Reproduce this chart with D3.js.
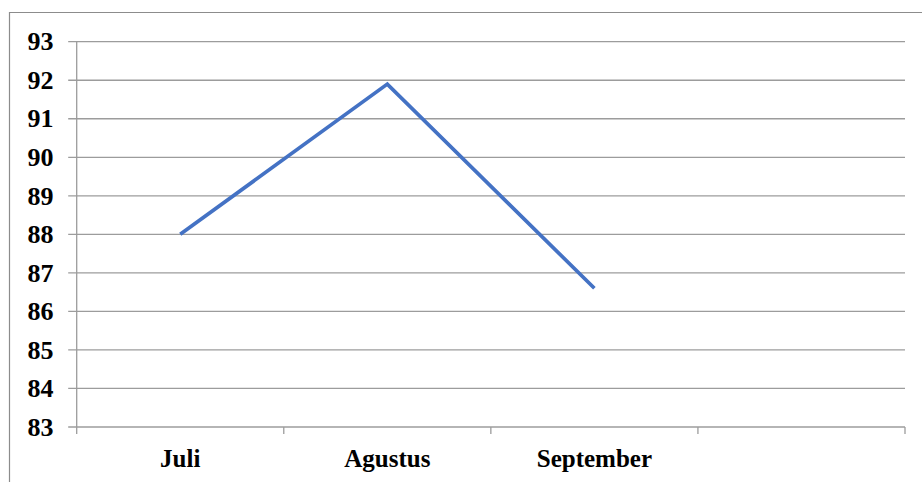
<!DOCTYPE html>
<html>
<head>
<meta charset="utf-8">
<script src="https://cdn.jsdelivr.net/npm/d3@7"></script>
<style>
  html, body { margin: 0; padding: 0; background: #fff; }
  svg { display: block; }
</style>
</head>
<body>
<svg id="chart" width="922" height="482"></svg>
<script>
// Monthly values (the fourth slot on the axis is left empty)
const categories = ["Juli", "Agustus", "September", ""];
const values = [88, 91.9, 86.6];
const yTicks = [83, 84, 85, 86, 87, 88, 89, 90, 91, 92, 93];

const labelFont = "'Liberation Serif', 'Times New Roman', Times, 'DejaVu Serif', serif";

const svg = d3.select("#chart");
const W = 922, H = 482;
const plotLeft = 76.7, plotRight = 905, plotTop = 41.7, plotBottom = 427;

// outer frame (left and top edges visible)
svg.append("path")
  .attr("d", `M9.5,${H} L9.5,12.5 L${W},12.5`)
  .attr("fill", "none")
  .attr("stroke", "#8c8c8c")
  .attr("stroke-width", 1.2);

const x = d3.scaleBand().domain(categories).range([plotLeft, plotRight]).padding(0);
const y = d3.scaleLinear().domain([83, 93]).range([plotBottom, plotTop]);

// horizontal gridlines with short ticks to the left of the axis
svg.append("g").selectAll("line")
  .data(yTicks)
  .join("line")
  .attr("x1", plotLeft - 8.5)
  .attr("x2", plotRight)
  .attr("y1", d => y(d))
  .attr("y2", d => y(d))
  .attr("stroke", "#9c9c9c")
  .attr("stroke-width", 1.3);

// vertical axis line
svg.append("line")
  .attr("x1", plotLeft).attr("x2", plotLeft)
  .attr("y1", plotTop).attr("y2", plotBottom)
  .attr("stroke", "#9c9c9c")
  .attr("stroke-width", 1.3);

// category boundary ticks on the x axis
const edges = categories.map(c => x(c)).concat([plotRight]);
svg.append("g").selectAll("line")
  .data(edges)
  .join("line")
  .attr("x1", d => d).attr("x2", d => d)
  .attr("y1", plotBottom).attr("y2", plotBottom + 7)
  .attr("stroke", "#9c9c9c")
  .attr("stroke-width", 1.3);

// y labels
svg.append("g").selectAll("text")
  .data(yTicks)
  .join("text")
  .attr("x", 53.5)
  .attr("y", d => y(d) + 8.7)
  .attr("text-anchor", "end")
  .attr("font-family", labelFont)
  .attr("font-weight", "bold")
  .attr("font-size", 26)
  .attr("fill", "#000")
  .text(d => d);

// x labels
svg.append("g").selectAll("text")
  .data(categories.filter(c => c))
  .join("text")
  .attr("x", d => x(d) + x.bandwidth() / 2)
  .attr("y", 466.5)
  .attr("text-anchor", "middle")
  .attr("font-family", labelFont)
  .attr("font-weight", "bold")
  .attr("font-size", 25)
  .attr("fill", "#000")
  .text(d => d);

// series line
const line = d3.line()
  .x((d, i) => x(categories[i]) + x.bandwidth() / 2)
  .y(d => y(d));

svg.append("path")
  .datum(values)
  .attr("d", line)
  .attr("fill", "none")
  .attr("stroke", "#4472C4")
  .attr("stroke-width", 3.7)
  .attr("stroke-linejoin", "miter");
</script>
</body>
</html>
